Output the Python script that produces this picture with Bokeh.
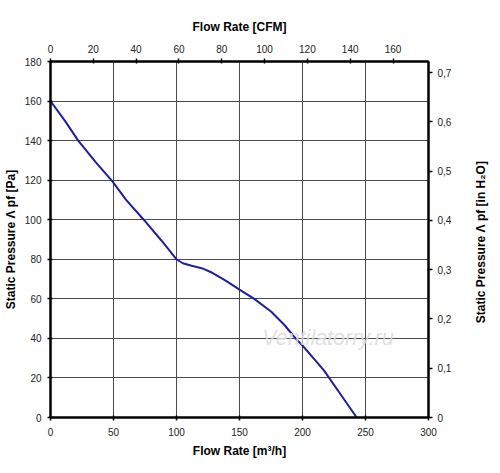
import math
from bokeh.plotting import figure
from bokeh.layouts import row
from bokeh.models import Range1d, LinearAxis, FixedTicker, Label
from bokeh.core.properties import value
from bokeh.embed import file_html
from bokeh.resources import INLINE

# Data
flow_m3h = [0, 11.5, 22, 36, 49, 60, 74, 88, 95, 100, 105, 112, 120, 128, 138, 143, 150, 161.7, 175, 185.5, 196, 200, 210, 217, 231, 243]
pressure_pa = [160, 150, 140, 129, 119.5, 110, 100, 89.5, 84, 80, 78, 76.7, 75.5, 73.3, 69.6, 67.6, 64.7, 60, 53.6, 46.9, 38.9, 36.4, 29, 23.8, 11, 0]

x_ticks_m3h = [0, 50, 100, 150, 200, 250, 300]
y_ticks_pa = [0, 20, 40, 60, 80, 100, 120, 140, 160, 180]
x_ticks_cfm = [0, 20, 40, 60, 80, 100, 120, 140, 160]
y_ticks_inh2o = [0, 0.1, 0.2, 0.3, 0.4, 0.5, 0.6, 0.7]
y_tick_labels_inh2o = ["0", "0,1", "0,2", "0,3", "0,4", "0,5", "0,6", "0,7"]

right_title_text = "Static Pressure Λ pf [in H₂O]"

M3H_PER_CFM = 1.699
PA_PER_INH2O = 249.09

FONT = "Liberation Sans"

p = figure(width=472, height=473, output_backend="svg", toolbar_location=None,
           x_range=Range1d(0, 300), y_range=Range1d(0, 180),
           min_border_left=49, min_border_right=44, min_border_top=61, min_border_bottom=56,
           x_axis_location=None, y_axis_location=None)
p.background_fill_color = "white"
p.border_fill_color = "white"
p.outline_line_color = "black"
p.outline_line_width = 2

p.extra_x_ranges = {"cfm": Range1d(0, 300 / M3H_PER_CFM)}
p.extra_y_ranges = {"inh2o": Range1d(0, 180 / PA_PER_INH2O)}

def style(ax, label):
    ax.axis_label = label
    ax.axis_label_text_font = FONT
    ax.axis_label_text_font_style = "bold"
    ax.axis_label_text_font_size = "12px"
    ax.axis_label_text_color = "black"
    ax.major_label_text_font = FONT
    ax.major_label_text_font_size = "10px"
    ax.major_label_text_color = "#222222"
    ax.axis_line_color = "black"
    ax.axis_line_width = 2
    ax.major_tick_line_color = "black"
    ax.major_tick_line_width = 1.5
    ax.major_tick_in = 2
    ax.major_tick_out = 3
    ax.minor_tick_line_color = None

bottom = LinearAxis(ticker=FixedTicker(ticks=x_ticks_m3h))
style(bottom, "Flow Rate [m³/h]")
bottom.major_label_standoff = 7
bottom.axis_label_standoff = 5
p.add_layout(bottom, "below")

left = LinearAxis(ticker=FixedTicker(ticks=y_ticks_pa))
style(left, "Static Pressure Λ pf [Pa]")
left.major_label_standoff = 6
left.axis_label_standoff = 4
p.add_layout(left, "left")

top = LinearAxis(x_range_name="cfm", ticker=FixedTicker(ticks=x_ticks_cfm))
style(top, "Flow Rate [CFM]")
top.major_label_standoff = 6
top.axis_label_standoff = 8
p.add_layout(top, "above")

right = LinearAxis(y_range_name="inh2o", ticker=FixedTicker(ticks=y_ticks_inh2o))
style(right, None)
right.major_tick_in = 0
right.major_tick_out = 4
right.major_label_standoff = 5
right.major_label_overrides = {t: s for t, s in zip(y_ticks_inh2o, y_tick_labels_inh2o)}
p.add_layout(right, "right")

p.xgrid.ticker = FixedTicker(ticks=x_ticks_m3h)
p.ygrid.ticker = FixedTicker(ticks=y_ticks_pa)
for g in (p.xgrid, p.ygrid):
    g.grid_line_color = "#4a4a4a"
    g.grid_line_width = 1

wm = Label(x=168, y=34, text="Ventilatorry.ru", text_font=FONT, text_font_size="21.5px",
           text_font_style="italic", text_color="#dcdcdc", text_alpha=0.9)
p.add_layout(wm)

p.line(flow_m3h, pressure_pa, line_color="#1f1f9e", line_width=2)

# narrow strip holding the right-hand axis title (reads bottom-to-top)
p2 = figure(width=28, height=473, output_backend="svg", toolbar_location=None,
            x_range=Range1d(0, 28), y_range=Range1d(0, 473),
            min_border=0, x_axis_location=None, y_axis_location=None)
p2.outline_line_color = None
p2.background_fill_color = "white"
p2.border_fill_color = "white"
p2.xgrid.visible = False
p2.ygrid.visible = False
p2.text(x=[8], y=[233], text=[right_title_text], angle=math.pi / 2,
        text_align="center", text_baseline="middle",
        text_font=value(FONT), text_font_style="bold", text_font_size="12px",
        text_color="black")

layout = row(p, p2, spacing=0)
open("out.html", "w").write(file_html(layout, INLINE))
